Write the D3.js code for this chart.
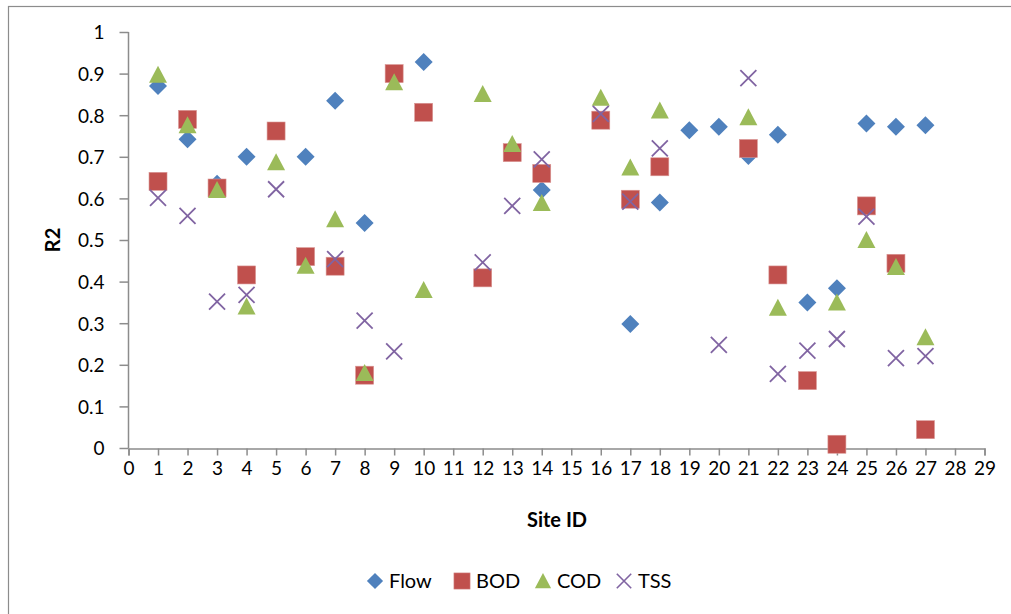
<!DOCTYPE html>
<html>
<head>
<meta charset="utf-8">
<script src="https://cdn.jsdelivr.net/npm/d3@7"></script>
<style>
  body { margin: 0; background: #fff; }
  text { font-family: Lato, "Open Sans", sans-serif; fill: #000; }
</style>
</head>
<body>
<div id="vizContainer"></div>
<script>
// site IDs 1..27, null where a series has no point
const sites = d3.range(1, 28);
const flow = [0.87, 0.742, 0.635, 0.70, null, 0.70, 0.835, 0.541, null, 0.928, null, null, null, 0.62, null, null, 0.298, 0.59, 0.764, 0.772, 0.702, 0.753, 0.35, 0.384, 0.78, 0.772, 0.776];
const bod = [0.641, 0.79, 0.625, 0.416, 0.762, 0.46, 0.437, 0.175, 0.90, 0.807, null, 0.409, 0.71, 0.66, null, 0.788, 0.598, 0.676, null, null, 0.72, 0.416, 0.162, 0.009, 0.582, 0.444, 0.044];
const cod = [0.897, 0.776, 0.62, 0.34, 0.687, 0.438, 0.55, 0.18, 0.879, 0.38, null, 0.851, 0.731, 0.589, null, 0.842, 0.674, 0.811, null, null, 0.795, 0.337, null, 0.35, 0.50, 0.435, 0.266];
const tss = [0.601, 0.558, 0.352, 0.368, 0.622, null, 0.454, 0.306, 0.232, null, null, 0.446, 0.582, 0.694, null, 0.803, 0.592, 0.72, null, 0.248, 0.889, 0.178, 0.234, 0.262, 0.556, 0.216, 0.221];
const yTicks = [0, 0.1, 0.2, 0.3, 0.4, 0.5, 0.6, 0.7, 0.8, 0.9, 1];
const xTicks = d3.range(0, 30);

const series = [
  { name: "Flow", values: flow, color: "#4F81BD", shape: "diamond" },
  { name: "BOD", values: bod, color: "#C0504D", shape: "square" },
  { name: "COD", values: cod, color: "#9BBB59", shape: "triangle" },
  { name: "TSS", values: tss, color: "#8064A2", shape: "cross" }
];

const width = 1011, height = 614;
const plotLeft = 128.5, plotRight = 984.5, plotTop = 32, plotBottom = 448;

const svg = d3.select("#vizContainer").append("svg")
  .attr("width", width).attr("height", height);

// chart border (only left and top edges are in frame)
svg.append("rect")
  .attr("x", 8.5).attr("y", 6.5)
  .attr("width", 1020).attr("height", 620)
  .attr("fill", "none").attr("stroke", "#8c8c8c").attr("stroke-width", 1.2);

const x = d3.scaleLinear().domain([0, 29]).range([plotLeft, plotRight]);
const y = d3.scaleLinear().domain([0, 1]).range([plotBottom, plotTop]);

const yAxis = svg.append("g")
  .attr("transform", `translate(${plotLeft},0)`)
  .call(d3.axisLeft(y).tickValues(yTicks).tickFormat(d3.format("~g")).tickSize(9).tickPadding(15));

const xAxis = svg.append("g")
  .attr("transform", `translate(0,${plotBottom + 0.5})`)
  .call(d3.axisBottom(x).tickValues(xTicks).tickSize(7).tickPadding(6));

[yAxis, xAxis].forEach(g => {
  g.selectAll("path, line").attr("stroke", "#8c8c8c").attr("stroke-width", 1.5);
  g.selectAll("text").style("font-size", "19px").attr("fill", "#000");
});
yAxis.select(".domain").attr("d", `M0,${plotBottom}V${plotTop}`);
yAxis.selectAll("text").attr("dy", "0.36em");

// axis titles
svg.append("text")
  .attr("transform", `translate(60,${y(0.5)}) rotate(-90)`)
  .attr("text-anchor", "middle")
  .style("font-size", "20px").style("font-weight", "bold")
  .text("R2");

svg.append("text")
  .attr("x", 557).attr("y", 527)
  .attr("text-anchor", "middle")
  .style("font-size", "20px").style("font-weight", "bold")
  .text("Site ID");

function drawMarker(g, shape, color) {
  if (shape === "diamond") {
    g.append("path").attr("d", "M0,-9L9,0L0,9L-9,0Z").attr("fill", color);
  } else if (shape === "square") {
    g.append("rect").attr("x", -9).attr("y", -9).attr("width", 18).attr("height", 18)
      .attr("fill", color).attr("stroke", "#d99694").attr("stroke-width", 0.6);
  } else if (shape === "triangle") {
    g.append("path").attr("d", "M0,-9L9,8L-9,8Z").attr("fill", color);
  } else {
    g.append("path").attr("d", "M-8,-8L8,8M-8,8L8,-8")
      .attr("stroke", color).attr("stroke-width", 1.8).attr("fill", "none");
  }
}

series.forEach(s => {
  const pts = sites.map((id, i) => ({ id, v: s.values[i] })).filter(d => d.v != null);
  svg.append("g").selectAll("g")
    .data(pts)
    .enter()
    .append("g")
    .attr("transform", d => `translate(${x(d.id)},${y(d.v)})`)
    .each(function () { drawMarker(d3.select(this), s.shape, s.color); });
});

// legend
const legendPos = [375, 462, 543, 624];
const legend = svg.append("g");
series.forEach((s, i) => {
  const g = legend.append("g").attr("transform", `translate(${legendPos[i]},581)`);
  const m = g.append("g").attr("transform", "scale(0.9)");
  drawMarker(m, s.shape, s.color);
  g.append("text").attr("x", 14).attr("y", 0).attr("dy", "0.36em")
    .style("font-size", "20px").text(s.name);
});
</script>
</body>
</html>
